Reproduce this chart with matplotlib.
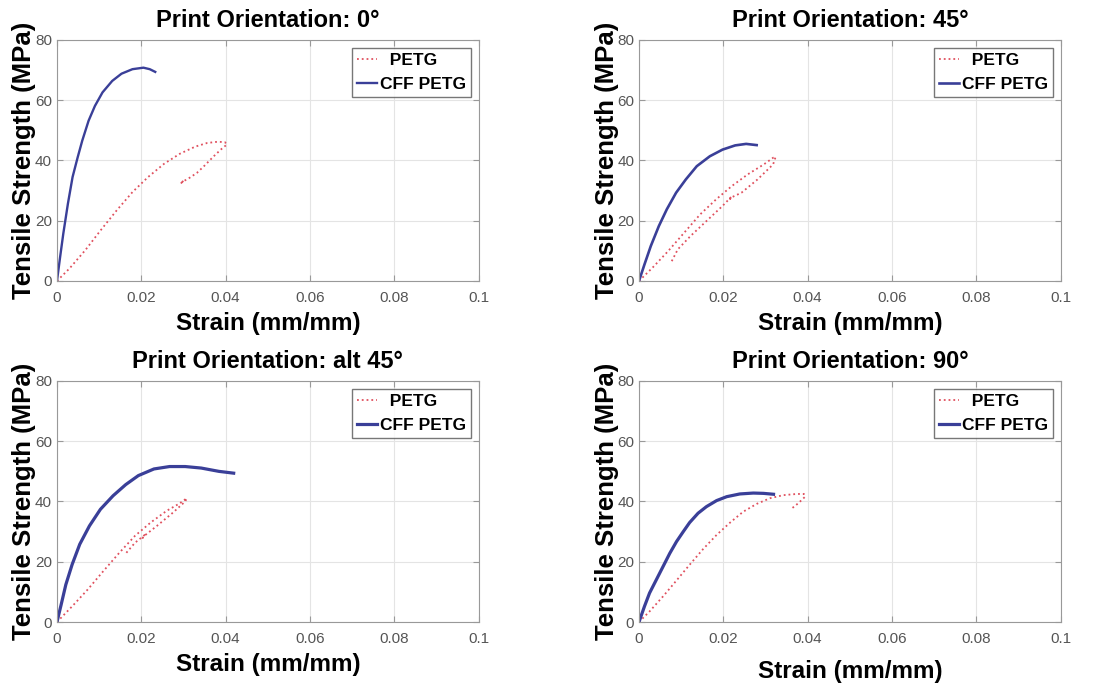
import numpy as np
import matplotlib
matplotlib.use('Agg')
import matplotlib.pyplot as plt

plt.rcParams['font.family'] = ['Liberation Sans', 'DejaVu Sans']

titles = ['Print Orientation: 0°', 'Print Orientation: 45°',
          'Print Orientation: alt 45°', 'Print Orientation: 90°']

# 0 deg
petg0_x = [0, 0.003, 0.0067, 0.0104, 0.0142, 0.0179, 0.0216, 0.0254, 0.0291, 0.0328, 0.0356, 0.038, 0.0398,
           0.0403, 0.039, 0.0371, 0.035, 0.0332, 0.0315, 0.0305, 0.0297, 0.0293, 0.0300, 0.0296]
petg0_y = [0, 4.2, 10.2, 16.9, 23.5, 29.5, 34.5, 38.9, 42.2, 44.6, 45.8, 46.2, 46.1,
           45.3, 43.8, 41.3, 38.3, 35.9, 34.3, 33.5, 32.9, 32.2, 33.3, 32.6]
cff0_x = [0, 0.00075, 0.0015, 0.0026, 0.0037, 0.0049, 0.006, 0.0075, 0.009, 0.0108, 0.0131, 0.0153,
          0.0179, 0.0205, 0.022, 0.0233]
cff0_y = [0, 8.0, 15.7, 25.7, 34.5, 41.0, 46.6, 53.2, 58.1, 62.6, 66.4, 68.8, 70.3, 70.8, 70.3, 69.4]

# 45 deg
petg45_x = [0, 0.0032, 0.0069, 0.0107, 0.0145, 0.0183, 0.022, 0.0258, 0.0296, 0.0318, 0.0324,
            0.0318, 0.0281, 0.0243, 0.022, 0.0216, 0.0220, 0.0198, 0.016, 0.0122, 0.0092, 0.0077]
petg45_y = [0, 4.4, 9.9, 16.0, 22.1, 27.1, 31.5, 35.4, 38.7, 40.9, 41.2,
            38.7, 33.7, 29.3, 27.8, 27.2, 28.1, 24.9, 19.9, 14.9, 10.5, 6.4]
cff45_x = [0, 0.0013, 0.0028, 0.0047, 0.0066, 0.0088, 0.0111, 0.0137, 0.0168, 0.0198, 0.0228, 0.0254, 0.0279]
cff45_y = [0, 5.5, 11.6, 18.2, 23.8, 29.3, 33.7, 38.1, 41.4, 43.6, 45.0, 45.5, 45.1]

# alt 45 deg
petga_x = [0, 0.0036, 0.0073, 0.011, 0.0148, 0.0185, 0.0222, 0.026, 0.029, 0.0308,
           0.0304, 0.0275, 0.0237, 0.0207, 0.0203, 0.0208, 0.0185, 0.0161]
petga_y = [0, 5.2, 10.8, 16.9, 23.0, 28.6, 33.0, 36.9, 39.3, 41.1,
           40.0, 36.3, 31.9, 28.6, 27.9, 28.9, 26.3, 22.4]
cffa_x = [0, 0.001, 0.0021, 0.0036, 0.0054, 0.0077, 0.0103, 0.0133, 0.0163, 0.0193, 0.023, 0.0267,
          0.0304, 0.0342, 0.0384, 0.0419]
cffa_y = [0, 5.8, 12.4, 19.1, 25.8, 31.9, 37.4, 41.9, 45.6, 48.6, 50.8, 51.6, 51.6, 51.1, 50.0, 49.4]

# 90 deg
petg90_x = [0, 0.0025, 0.0057, 0.0089, 0.012, 0.0152, 0.0184, 0.0216, 0.0247, 0.0279, 0.0311, 0.0342,
            0.0374, 0.0391, 0.0394, 0.0382, 0.037, 0.0362]
petg90_y = [0, 3.5, 8.5, 13.8, 19.0, 24.2, 28.9, 33.0, 36.6, 39.2, 41.1, 42.1,
            42.5, 42.5, 41.6, 40.0, 38.5, 37.7]
cff90_x = [0, 0.0013, 0.0025, 0.0041, 0.0057, 0.0073, 0.0089, 0.0105, 0.012, 0.014, 0.016, 0.0184,
           0.0208, 0.0239, 0.0271, 0.0295, 0.0319]
cff90_y = [0, 5.2, 9.6, 14.0, 18.4, 22.8, 26.7, 30.0, 33.0, 36.1, 38.3, 40.3,
           41.6, 42.5, 42.8, 42.7, 42.4]

petg_x = [petg0_x, petg45_x, petga_x, petg90_x]
petg_y = [petg0_y, petg45_y, petga_y, petg90_y]
cff_x = [cff0_x, cff45_x, cffa_x, cff90_x]
cff_y = [cff0_y, cff45_y, cffa_y, cff90_y]
cff_lw = [1.7, 1.9, 2.3, 2.3]

fig = plt.figure(figsize=(11.04, 6.83), dpi=100)
lefts = [0.0516, 0.5788, 0.0516, 0.5788]
bottoms = [0.5886, 0.5886, 0.0893, 0.0893]
xlabpad = [5, 5, 5, 10]

for i in range(4):
    ax = fig.add_axes([lefts[i], bottoms[i], 0.382, 0.3529])
    ax.plot(petg_x[i], petg_y[i], ':', color='#e0505e', lw=1.3, label='  PETG')
    ax.plot(cff_x[i], cff_y[i], '-', color='#3a3f98', lw=cff_lw[i], label='CFF PETG')
    ax.set_xlim(0, 0.1)
    ax.set_ylim(0, 80)
    ax.set_xticks([0, 0.02, 0.04, 0.06, 0.08, 0.1])
    ax.set_xticklabels(['0', '0.02', '0.04', '0.06', '0.08', '0.1'])
    ax.set_yticks([0, 20, 40, 60, 80])
    ax.grid(color='#e4e4e4', lw=0.8)
    ax.tick_params(direction='in', top=True, right=True, colors='#999999',
                   labelcolor='#555555', labelsize=11, length=4)
    ax.tick_params(axis='x', pad=7)
    for s in ax.spines.values():
        s.set_color('#999999')
    ax.set_title(titles[i], fontsize=17, fontweight='bold', pad=9)
    ax.set_xlabel('Strain (mm/mm)', fontsize=17.5, fontweight='bold', labelpad=xlabpad[i])
    ax.set_ylabel('Tensile Strength (MPa)', fontsize=18.5, fontweight='bold', labelpad=-1)
    leg = ax.legend(loc='upper right', fontsize=12.5, handlelength=1.15,
                    handletextpad=0.15, borderpad=0.3, labelspacing=0.5,
                    fancybox=False, borderaxespad=0.45)
    for t in leg.get_texts():
        t.set_fontweight('bold')
    leg.get_frame().set_edgecolor('#555555')
    leg.get_frame().set_linewidth(1.0)

fig.savefig('out.png', dpi=100)
